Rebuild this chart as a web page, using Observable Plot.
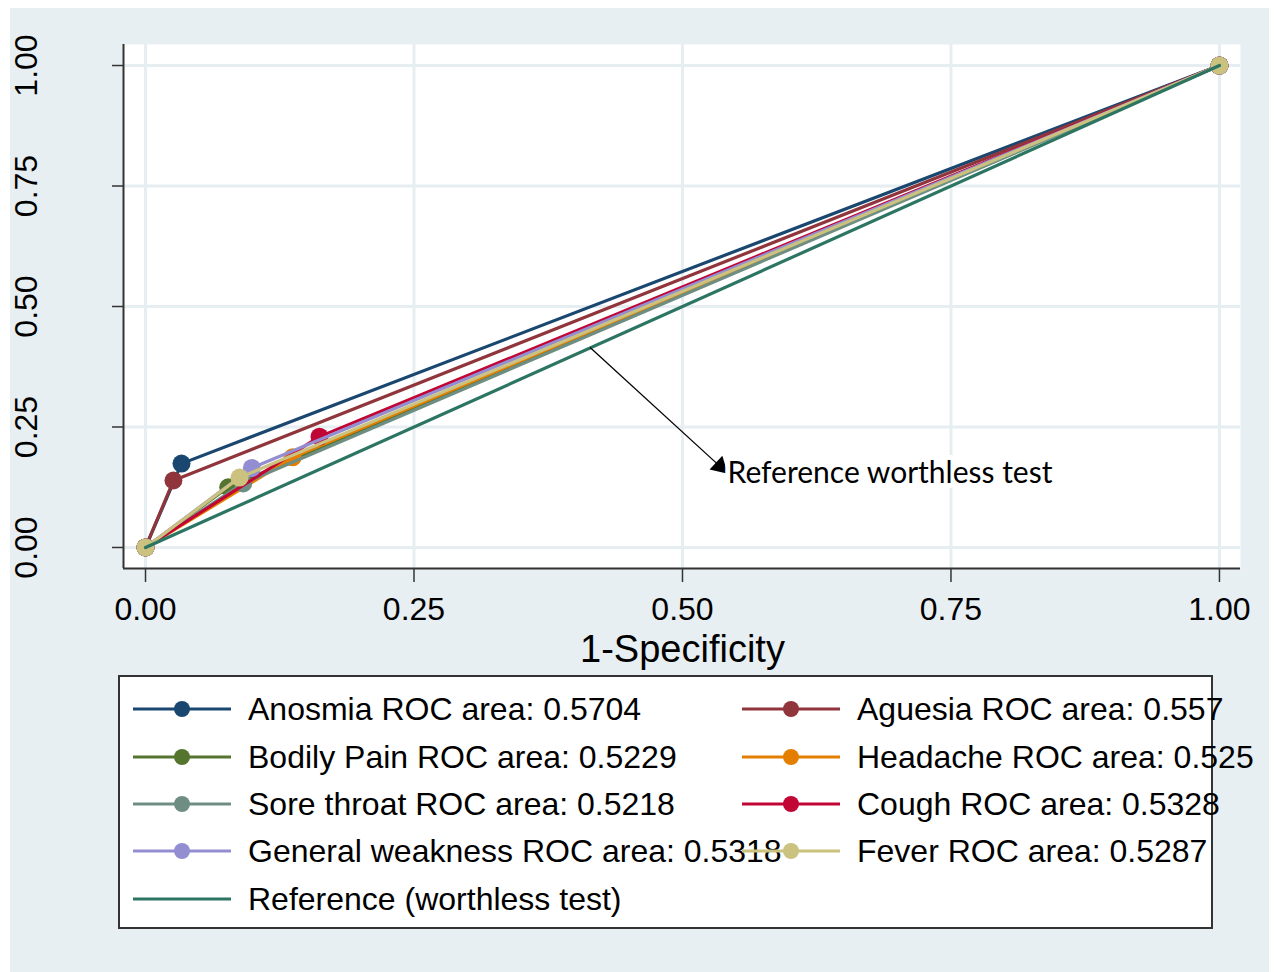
<!DOCTYPE html>
<html>
<head>
<meta charset="utf-8">
<script src="https://cdn.jsdelivr.net/npm/d3@7"></script>
<script src="https://cdn.jsdelivr.net/npm/@observablehq/plot@0.6"></script>
<style>
  html, body { margin: 0; padding: 0; background: #ffffff; }
  #page { position: relative; width: 1274px; height: 972px; overflow: hidden; font-family: "Liberation Sans", Arial, sans-serif; }
  #bg { position: absolute; left: 10px; top: 8px; width: 1259px; height: 964px; background: #e8eff2; }
  #chart { position: absolute; left: 0; top: 0; }
  #legend { position: absolute; left: 0; top: 690px; }
</style>
</head>
<body>
<div id="page">
  <div id="bg"></div>
  <div id="chart"></div>
  <svg id="legend" width="1274" height="282" overflow="visible"></svg>
</div>
<script>
// ---- data ----
const symptoms = ["Anosmia", "Aguesia", "Bodily Pain", "Headache", "Sore throat", "Cough", "General weakness", "Fever"];
const rocArea  = ["0.5704", "0.557", "0.5229", "0.525", "0.5218", "0.5328", "0.5318", "0.5287"];
const fpr      = [0.0335, 0.026, 0.077, 0.137, 0.091, 0.162, 0.099, 0.0875];   // 1-Specificity
const sens     = [0.174, 0.139, 0.125, 0.187, 0.133, 0.230, 0.165, 0.145];     // Sensitivity
const colors   = ["#1a476f", "#90353b", "#55752f", "#e37e00", "#6e8e84", "#c10534", "#938dd2", "#cac27e"];
const refColor = "#2d7563";
const refLabel = "Reference (worthless test)";
const xTicks = [0, 0.25, 0.5, 0.75, 1];
const yTicks = [0, 0.25, 0.5, 0.75, 1];
const xDomain = [-0.0205, 1.0196];
const yDomain = [-0.0436, 1.0436];
const refLine = [{x: 0, y: 0}, {x: 1, y: 1}];
const arrowFrom = {x: 0.414, y: 0.415};
const arrowTo = {x: 0.539, y: 0.160};
const note = {x: 0.542, y: 0.1535, text: "Reference worthless test"};
const xTitle = {x: 0.5, text: "1-Specificity"};

// ---- build table ----
const rows = symptoms.flatMap((s, i) =>
  [[0, 0], [fpr[i], sens[i]], [1, 1]].map(([x, y]) => ({s, i, x, y})));

const fmt = d3.format(".2f");
const font = "'Liberation Sans', Arial, sans-serif";

const seriesMarks = symptoms.flatMap((s, i) => {
  const d = rows.filter(r => r.i === i);
  return [
    Plot.line(d, {x: "x", y: "y", stroke: colors[i], strokeWidth: 3.2}),
    Plot.dot(d, {x: "x", y: "y", r: 9, fill: colors[i], stroke: "none"})
  ];
});

const angle = Math.atan2(123, 134) * 180 / Math.PI; // screen direction of the arrow

const chart = Plot.plot({
  width: 1274,
  height: 690,
  marginLeft: 123,
  marginRight: 34,
  marginTop: 44,
  marginBottom: 122,
  style: {background: "transparent", fontFamily: font, color: "#000", overflow: "visible"},
  x: {domain: xDomain, label: null},
  y: {domain: yDomain, label: null},
  marks: [
    Plot.frame({fill: "white", stroke: "none"}),
    Plot.ruleX(xTicks, {stroke: "#e6eef1", strokeWidth: 3}),
    Plot.ruleY(yTicks, {stroke: "#e6eef1", strokeWidth: 3}),
    ...seriesMarks,
    Plot.line(refLine, {x: "x", y: "y", stroke: refColor, strokeWidth: 3.2}),
    Plot.link([{x1: arrowFrom.x, y1: arrowFrom.y, x2: arrowTo.x, y2: arrowTo.y}],
      {x1: "x1", y1: "y1", x2: "x2", y2: "y2", stroke: "#000", strokeWidth: 1.3}),
    Plot.dot([arrowTo], {x: "x", y: "y", symbol: "triangle", r: 7, fill: "#000", stroke: "none",
      rotate: 90 + angle, dx: -6 * Math.cos(angle * Math.PI / 180), dy: -6 * Math.sin(angle * Math.PI / 180)}),
    Plot.text([note], {x: "x", y: "y", text: "text", textAnchor: "start", lineAnchor: "middle",
      fontSize: 30, fontFamily: "Lato, 'Open Sans', sans-serif", fill: "#000", stroke: "white", strokeWidth: 10}),
    Plot.ruleX([xDomain[0]], {stroke: "#333", strokeWidth: 2}),
    Plot.ruleY([yDomain[0]], {stroke: "#333", strokeWidth: 2}),
    Plot.axisX(xTicks, {tickSize: 14, tickPadding: 15, fontSize: 32, tickFormat: fmt, label: null, stroke: "#333", strokeWidth: 1.5}),
    Plot.axisY(yTicks, {tickSize: 11, tickFormat: () => "", label: null, stroke: "#333", strokeWidth: 1.5}),
    Plot.text(yTicks, {y: d => d, text: d => fmt(d), frameAnchor: "left", dx: -97, rotate: -90,
      fontSize: 32, textAnchor: "middle", lineAnchor: "middle", fill: "#000"}),
    Plot.text([xTitle], {x: "x", text: "text", frameAnchor: "bottom", dy: 81, fontSize: 38,
      lineAnchor: "middle", fill: "#000"})
  ]
});
document.getElementById("chart").appendChild(chart);

// ---- legend ----
const leg = d3.select("#legend");
leg.append("rect").attr("x", 119).attr("y", -14).attr("width", 1093).attr("height", 252)
  .attr("fill", "white").attr("stroke", "#333").attr("stroke-width", 2);
const entries = symptoms.map((s, i) => ({label: `${s} ROC area: ${rocArea[i]}`, color: colors[i], marker: true}));
entries.push({label: refLabel, color: refColor, marker: false});
const rowY = [19, 67, 114, 161, 209];
const colX = [133, 742];
entries.forEach((e, k) => {
  const row = Math.floor(k / 2), col = k % 2;
  const x0 = colX[col], y0 = rowY[row];
  const g = leg.append("g");
  g.append("line").attr("x1", x0).attr("x2", x0 + 98).attr("y1", y0).attr("y2", y0)
    .attr("stroke", e.color).attr("stroke-width", 3);
  if (e.marker) g.append("circle").attr("cx", x0 + 49).attr("cy", y0).attr("r", 8).attr("fill", e.color);
  g.append("text").attr("x", x0 + 115).attr("y", y0 + 11).attr("font-size", 32)
    .attr("font-family", font).attr("fill", "#000").text(e.label);
});
</script>
</body>
</html>
